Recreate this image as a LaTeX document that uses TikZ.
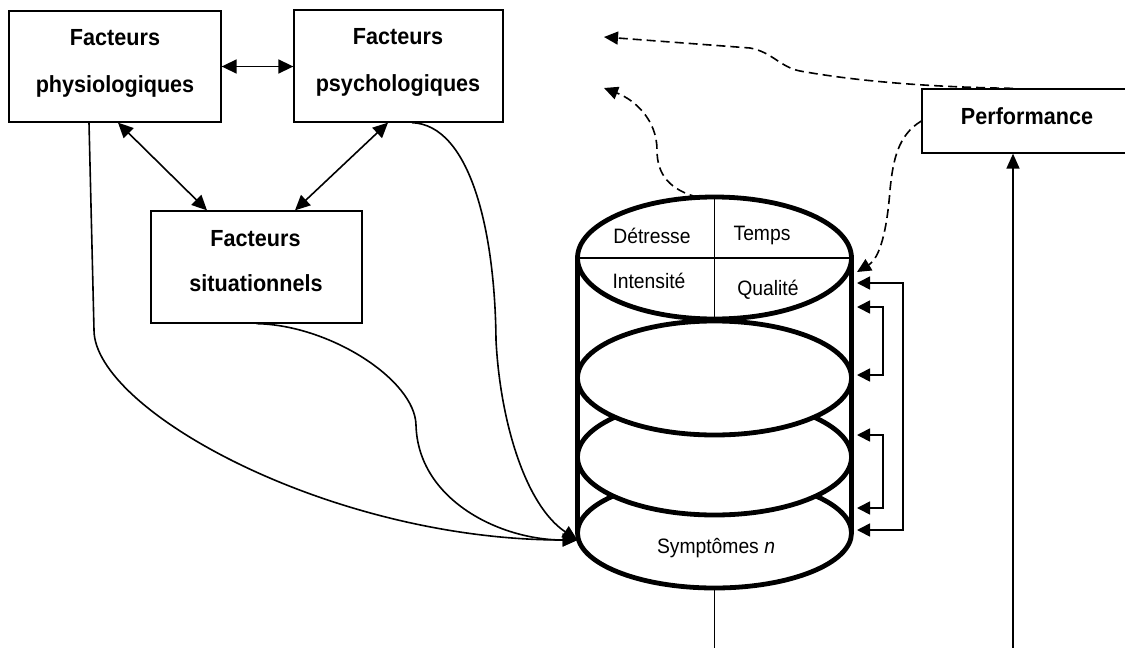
\documentclass[tikz,border=0pt]{standalone}
\usepackage{fontspec}
\usepackage{graphicx}
\setmainfont{Liberation Sans}
\usetikzlibrary{arrows.meta,shapes.geometric,calc}

% slightly taller glyphs for all labels
\newcommand{\tallfont}[1]{\scalebox{1}[1.08]{#1}}

\tikzset{
  box/.style={draw, rectangle, line width=1.3pt, inner sep=0pt},
  boxtext/.style={font=\fontsize{21.6}{26}\selectfont\bfseries, anchor=base, inner sep=0pt},
  celltext/.style={font=\fontsize{19.3}{23}\selectfont, anchor=base, inner sep=0pt},
  disc/.style={ellipse, draw, fill=white, line width=4.8pt, minimum width=274pt,
               inner sep=0pt, outer sep=0pt},
  link/.style={line width=1.6pt, -{Triangle[length=15pt,width=13pt]}},
  twoway/.style={line width=1.6pt,
                 {Triangle[length=15pt,width=14pt]}-{Triangle[length=15pt,width=14pt]}},
  loopback/.style={line width=1.6pt,
                 {Triangle[length=13pt,width=13pt]}-{Triangle[length=13pt,width=13pt]}},
  hint/.style={line width=1.6pt, dash pattern=on 9pt off 5pt,
               -{Triangle[length=14pt,width=13pt]}},
}

\begin{document}
\begin{tikzpicture}[x=1pt,y=-1pt]
\useasboundingbox (0,0) rectangle (1125,648);
\clip (0,0) rectangle (1125,648);

% factor boxes
\node[box, minimum width=212pt, minimum height=111pt] (phys) at (115,66.5) {};
\node[box, minimum width=209pt, minimum height=112pt] (psy)  at (398.5,66) {};
\node[box, minimum width=211pt, minimum height=112pt] (situ) at (256.5,267) {};
\node[box, minimum width=213pt, minimum height=64pt]  (perf) at (1028.5,121) {};

\node[boxtext] (phys1) at (115,45)     {\tallfont{Facteurs}};
\node[boxtext] (phys2) at (115,92)     {\tallfont{physiologiques}};
\node[boxtext] (psy1)  at (398,44.5)   {\tallfont{Facteurs}};
\node[boxtext] (psy2)  at (398,91)     {\tallfont{psychologiques}};
\node[boxtext] (situ1) at (255.5,246.5){\tallfont{Facteurs}};
\node[boxtext] (situ2) at (256,291.5)  {\tallfont{situationnels}};
\node[boxtext] (perf1) at (1027,124)   {\tallfont{Performance}};

% stacked symptom discs, lowest first so upper ones overlap it
\node[disc, minimum height=110pt] (e4) at (714.5,533) {};
\node[disc, minimum height=116pt] (e3) at (714.5,457) {};
\node[disc, minimum height=114pt] (e2) at (714.5,378) {};
\node[disc, minimum height=122pt] (e1) at (714.5,258) {};
\draw[line width=1.5pt] (e1.north) -- (e1.south);
\draw[line width=1.5pt] (e1.west) -- (e1.east);
\draw[line width=4.8pt] (e1.west) -- (e4.west);
\draw[line width=4.8pt] (e1.east) -- (e4.east);

\node[celltext] (c1) at (652,243) {\tallfont{Détresse}};
\node[celltext] (c2) at (762,240) {\tallfont{Temps}};
\node[celltext] (c3) at (649,288) {\tallfont{Intensité}};
\node[celltext] (c4) at (768,295) {\tallfont{Qualité}};
\node[celltext] (c5) at (716,553) {\tallfont{Symptômes \textit{n}}};

% connector end points
\coordinate (down) at (712,650);
\coordinate (feed) at (1013,650);
\coordinate (tipA) at (604,37);
\coordinate (tipB) at (604,88);
\coordinate (hitP) at (857,272);
\coordinate (hitS) at ($(e4.west)+(0,7)$);
\coordinate (r1) at (857,283);
\coordinate (r2) at (857,307);
\coordinate (r3) at (857,375);
\coordinate (r4) at (857,435);
\coordinate (r5) at (857,508);
\coordinate (r6) at (857,530);

% links between factors
\draw[twoway] (phys.east) -- (phys.east -| psy.west);
\draw[twoway] ($(phys.south)+(3,0)$) -- ($(situ.north)+(-49.5,0)$);
\draw[twoway] ($(psy.south)+(-10.5,0)$) -- ($(situ.north)+(38.5,0)$);

% factors feeding the symptoms
\draw[link] ($(phys.south)+(-26,0)$) -- (94,330)
  .. controls (94,410) and (330,540) .. (hitS);
\draw[link] (situ.south) .. controls (330,325) and (415,380) .. (416,425)
  .. controls (418,500) and (500,540) .. (hitS);
\draw[link] ($(psy.south)+(13.5,0)$) .. controls (470,125) and (495,230) .. (496,340)
  .. controls (500,420) and (525,505) .. (hitS);

% performance and outputs
\draw[link] (feed) -- (feed |- perf.south);
\draw[line width=1.6pt] (e4.south) -- (e4.south |- down);

% dashed influences
\draw[hint] (feed |- perf.north) .. controls (920,87) and (850,80) .. (800,71)
  .. controls (780,67) and (772,52) .. (750,48) -- (tipA);
\draw[hint] (e1.105) .. controls (670,190) and (657,175) .. (657,150)
  .. controls (657,120) and (635,100) .. (tipB);
\draw[hint] (perf.west) .. controls (898,135) and (893,160) .. (890,190)
  .. controls (887,230) and (880,258) .. (hitP);

% feedback loops along the stack
\draw[loopback] (r1) -- ++(46,0) |- (r6);
\draw[loopback] (r2) -- ++(26,0) |- (r3);
\draw[loopback] (r4) -- ++(26,0) |- (r5);
\end{tikzpicture}
\end{document}
